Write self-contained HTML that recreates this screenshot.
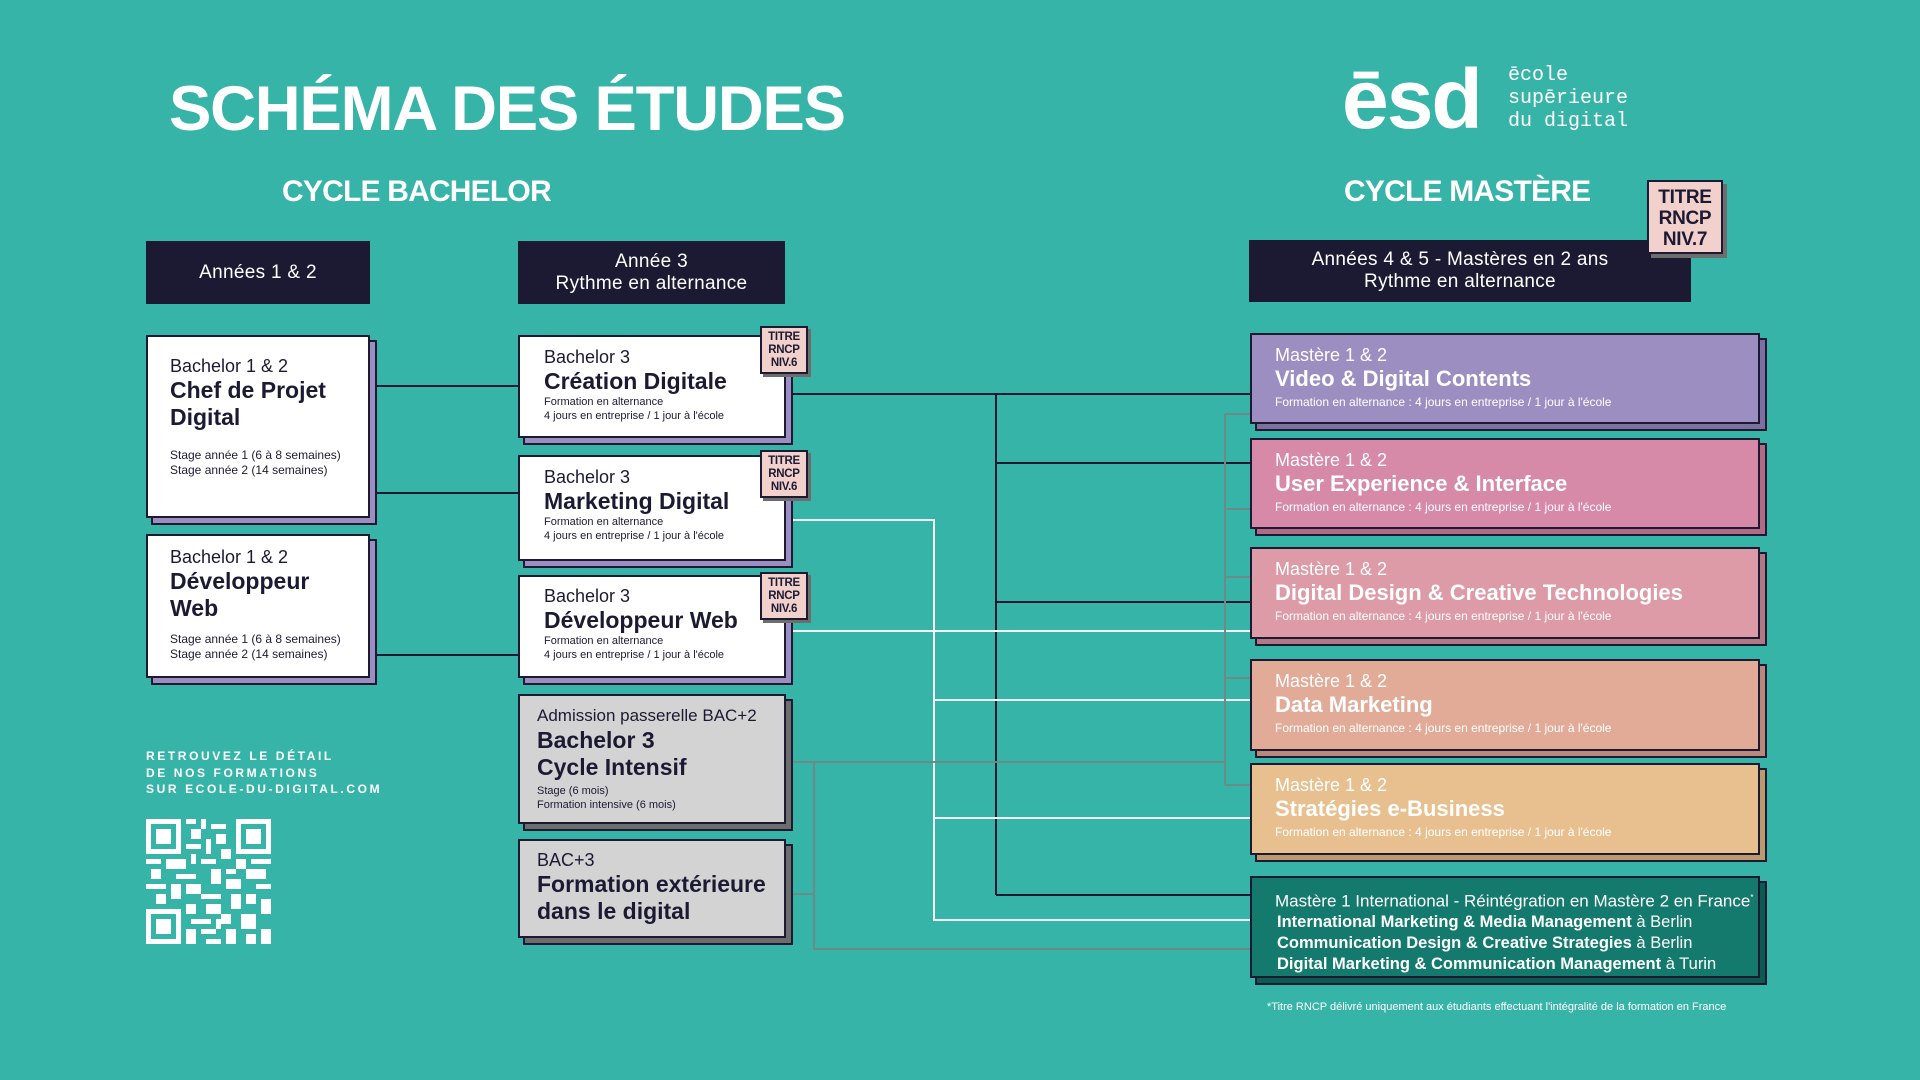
<!DOCTYPE html>
<html><head><meta charset="utf-8">
<style>
*{margin:0;padding:0;box-sizing:border-box}
body{width:1920px;height:1080px;background:#37b4a8;position:relative;overflow:hidden;font-family:"Liberation Sans Narrow","Liberation Sans",sans-serif;color:#1c1a33}
.a{position:absolute}
.hd{position:absolute;background:#1c1a33;color:#fff;text-align:center;font-size:19px;line-height:22px;display:flex;align-items:center;justify-content:center;letter-spacing:.3px}
.bx{position:absolute;border:2px solid #1c1a33;background:#fff;box-shadow:6px 6px 0 -1px #9d8ec2,6px 6px 0 1px #1c1a33}
.gr{background:#d3d3d3;box-shadow:6px 6px 0 -1px #6d6d6d,6px 6px 0 1px #1c1a33}
.t1{font-size:18px;line-height:22px}
.t2{font-size:23px;font-weight:bold;line-height:27px}
.t3{font-size:12px;line-height:15px}
.ms{position:absolute;left:1250px;width:510px;border:2px solid #1c1a33;color:#fff;padding:9px 0 0 23px}
.ms .t1{font-size:18px;line-height:22px}
.ms .t2{font-size:22px;line-height:26px}
.ms .t3{font-size:12px;margin-top:3px}
.bd{position:absolute;width:48px;height:48px;background:#f2d0cc;border:2px solid #1c1a33;box-shadow:3px 3px 0 #6d6d6d;font-family:"Liberation Sans",sans-serif;font-weight:bold;font-size:11.5px;line-height:13px;text-align:center;padding-top:3px;letter-spacing:-.3px}
</style></head><body>
<svg class="a" style="left:0;top:0" width="1920" height="1080">
<g stroke="#1c1a33" stroke-width="2" fill="none">
<path d="M370 386H518M370 493H518M370 655H518"/>
<path d="M786 394H1250M996 394V895M996 463H1250M996 602H1250M996 895H1250"/>
</g>
<g stroke="#f2fbfa" stroke-width="2" fill="none">
<path d="M786 520H934V920H1250M934 700H1250M934 818H1250M786 631H1250"/>
</g>
<g stroke="#6d8a86" stroke-width="2" fill="none">
<path d="M786 762H1225M1225 414V785M1225 414H1250M1225 509H1250M1225 577H1250M1225 678H1250M1225 785H1250"/>
<path d="M786 894H814M814 762V949H1250"/>
</g>
</svg>

<div class="a" style="left:169px;top:72px;font-family:'Liberation Sans',sans-serif;font-weight:bold;font-size:63.5px;color:#fff;letter-spacing:-1.2px;line-height:74px">SCHÉMA DES ÉTUDES</div>
<div class="a" style="left:282px;top:175px;font-family:'Liberation Sans',sans-serif;font-weight:bold;font-size:30px;color:#fff;letter-spacing:-.8px">CYCLE BACHELOR</div>
<div class="a" style="left:1344px;top:175px;font-family:'Liberation Sans',sans-serif;font-weight:bold;font-size:30px;color:#fff;letter-spacing:-.8px">CYCLE MASTÈRE</div>

<!-- logo -->
<div class="a" style="left:1342px;top:56px;font-family:'Liberation Sans',sans-serif;font-weight:bold;font-size:84px;color:#fff;letter-spacing:-2px;line-height:86px">ēsd</div>
<div class="a" style="left:1508px;top:64px;font-family:'Liberation Mono',monospace;font-size:20px;line-height:23px;color:#fff">ēcole<br>supērieure<br>du digital</div>

<div class="hd" style="left:146px;top:241px;width:224px;height:63px">Années 1 &amp; 2</div>
<div class="hd" style="left:518px;top:241px;width:267px;height:63px">Année 3<br>Rythme en alternance</div>
<div class="hd" style="left:1249px;top:240px;width:442px;height:62px;padding-right:20px">Années 4 &amp; 5 - Mastères en 2 ans<br>Rythme en alternance</div>
<div class="bd" style="left:1647px;top:180px;width:76px;height:74px;font-size:19px;line-height:21px;padding-top:5px;box-shadow:4px 4px 0 #6d6d6d">TITRE<br>RNCP<br>NIV.7</div>

<!-- bachelor 1&2 -->
<div class="bx" style="left:146px;top:335px;width:224px;height:183px;padding:18px 0 0 22px">
<div class="t1">Bachelor 1 &amp; 2</div><div class="t2">Chef de Projet<br>Digital</div>
<div class="t3" style="margin-top:17px">Stage année 1 (6 à 8 semaines)<br>Stage année 2 (14 semaines)</div></div>
<div class="bx" style="left:146px;top:534px;width:224px;height:144px;padding:10px 0 0 22px">
<div class="t1">Bachelor 1 &amp; 2</div><div class="t2">Développeur<br>Web</div>
<div class="t3" style="margin-top:10px">Stage année 1 (6 à 8 semaines)<br>Stage année 2 (14 semaines)</div></div>

<!-- bachelor 3 -->
<div class="bx" style="left:518px;top:335px;width:268px;height:103px;padding:9px 0 0 24px">
<div class="t1">Bachelor 3</div><div class="t2">Création Digitale</div>
<div class="t3" style="font-size:11px;line-height:14px">Formation en alternance<br>4 jours en entreprise / 1 jour à l'école</div></div>
<div class="bx" style="left:518px;top:455px;width:268px;height:106px;padding:9px 0 0 24px">
<div class="t1">Bachelor 3</div><div class="t2">Marketing Digital</div>
<div class="t3" style="font-size:11px;line-height:14px">Formation en alternance<br>4 jours en entreprise / 1 jour à l'école</div></div>
<div class="bx" style="left:518px;top:575px;width:268px;height:103px;padding:8px 0 0 24px">
<div class="t1">Bachelor 3</div><div class="t2">Développeur Web</div>
<div class="t3" style="font-size:11px;line-height:14px">Formation en alternance<br>4 jours en entreprise / 1 jour à l'école</div></div>
<div class="bx gr" style="left:518px;top:694px;width:268px;height:130px;padding:9px 0 0 17px">
<div class="t1" style="font-size:17px">Admission passerelle BAC+2</div><div class="t2">Bachelor 3<br>Cycle Intensif</div>
<div class="t3" style="font-size:11px;line-height:14px;margin-top:3px">Stage (6 mois)<br>Formation intensive (6 mois)</div></div>
<div class="bx gr" style="left:518px;top:839px;width:268px;height:99px;padding:8px 0 0 17px">
<div class="t1">BAC+3</div><div class="t2">Formation extérieure<br>dans le digital</div></div>

<div class="bd" style="left:760px;top:326px">TITRE<br>RNCP<br>NIV.6</div>
<div class="bd" style="left:760px;top:450px">TITRE<br>RNCP<br>NIV.6</div>
<div class="bd" style="left:760px;top:572px">TITRE<br>RNCP<br>NIV.6</div>

<!-- masters -->
<div class="ms" style="top:333px;height:91px;background:#9d8ec2;box-shadow:6px 6px 0 -1px #7d6fa0,6px 6px 0 1px #1c1a33">
<div class="t1">Mastère 1 &amp; 2</div><div class="t2">Video &amp;  Digital Contents</div><div class="t3">Formation en alternance : 4 jours en entreprise / 1 jour à l'école</div></div>
<div class="ms" style="top:438px;height:91px;background:#d68aa8;box-shadow:6px 6px 0 -1px #b06c87,6px 6px 0 1px #1c1a33">
<div class="t1">Mastère 1 &amp; 2</div><div class="t2">User Experience &amp; Interface</div><div class="t3">Formation en alternance : 4 jours en entreprise / 1 jour à l'école</div></div>
<div class="ms" style="top:547px;height:92px;background:#dc9ba6;box-shadow:6px 6px 0 -1px #b07a84,6px 6px 0 1px #1c1a33">
<div class="t1">Mastère 1 &amp; 2</div><div class="t2">Digital Design &amp; Creative Technologies</div><div class="t3">Formation en alternance : 4 jours en entreprise / 1 jour à l'école</div></div>
<div class="ms" style="top:659px;height:92px;background:#e2ab98;box-shadow:6px 6px 0 -1px #b8887a,6px 6px 0 1px #1c1a33">
<div class="t1">Mastère 1 &amp; 2</div><div class="t2">Data Marketing</div><div class="t3">Formation en alternance : 4 jours en entreprise / 1 jour à l'école</div></div>
<div class="ms" style="top:763px;height:92px;background:#e8c08f;box-shadow:6px 6px 0 -1px #bc9a70,6px 6px 0 1px #1c1a33">
<div class="t1">Mastère 1 &amp; 2</div><div class="t2">Stratégies e-Business</div><div class="t3">Formation en alternance : 4 jours en entreprise / 1 jour à l'école</div></div>
<div class="ms" style="top:876px;height:102px;background:#137a6d;box-shadow:6px 6px 0 -1px #0d5a50,6px 6px 0 1px #1c1a33;padding-top:9px">
<div style="font-size:17px;line-height:21px">Mastère 1 International - Réintégration en Mastère 2 en France<sup style="font-size:8px">*</sup></div>
<div style="font-size:16.5px;line-height:21px;padding-left:2px"><b>International Marketing &amp; Media Management</b> à Berlin<br><b>Communication Design &amp; Creative Strategies</b> à Berlin<br><b>Digital Marketing &amp; Communication Management</b> à Turin</div></div>

<div class="a" style="left:1267px;top:1001px;font-size:11px;color:#fff">*Titre RNCP délivré uniquement aux étudiants effectuant l'intégralité de la formation en France</div>

<div class="a" style="left:146px;top:748px;font-family:'Liberation Sans',sans-serif;font-weight:bold;font-size:12px;line-height:16.5px;letter-spacing:2.6px;color:#fff">RETROUVEZ LE DÉTAIL<br>DE NOS FORMATIONS<br>SUR ECOLE-DU-DIGITAL.COM</div>

<svg class="a" style="left:146px;top:819px" width="125" height="125" viewBox="0 0 25 25" shape-rendering="crispEdges">
<g fill="#fff">
<path d="M0 0h7v7H0zM18 0h7v7h-7zM0 18h7v7H0z"/>
</g>
<g fill="#37b4a8"><path d="M1 1h5v5H1zM19 1h5v5h-5zM1 19h5v5H1z"/></g>
<g fill="#fff"><path d="M2 2h3v3H2zM20 2h3v3h-3zM2 20h3v3H2z"/>
<path d="M8 0h2v1H8zM11 0h1v2h-1zM13 1h3v1h-3zM9 2h2v2H9zM14 3h2v2h-2zM12 4h1v3h-1zM8 5h3v1H8zM15 6h2v2h-2zM9 7h1v2H9zM0 8h3v1H0zM4 8h4v2H4zM11 8h3v1h-3zM18 8h2v2h-2zM21 8h4v1h-4zM1 10h2v2H1zM6 11h4v1H6zM13 10h2v3h-2zM16 10h2v1h-2zM20 10h3v2h-3zM0 13h4v1H0zM5 13h2v3H5zM8 13h3v2H8zM16 12h3v2h-3zM22 13h3v1h-3zM2 15h2v2H2zM11 15h4v1h-4zM17 15h2v3h-2zM20 15h2v2h-2zM8 17h2v2H8zM12 17h3v2h-3zM23 16h2v3h-2zM9 20h4v1H9zM15 19h2v2h-2zM19 19h3v3h-3zM8 22h2v3H8zM11 22h3v1h-3zM16 22h2v3h-2zM12 24h3v1h-3zM23 22h2v3h-2zM20 23h2v2h-2zM14 20h1v2h-1zM23 10h1v2h-1z"/></g>
</svg>
</body></html>
